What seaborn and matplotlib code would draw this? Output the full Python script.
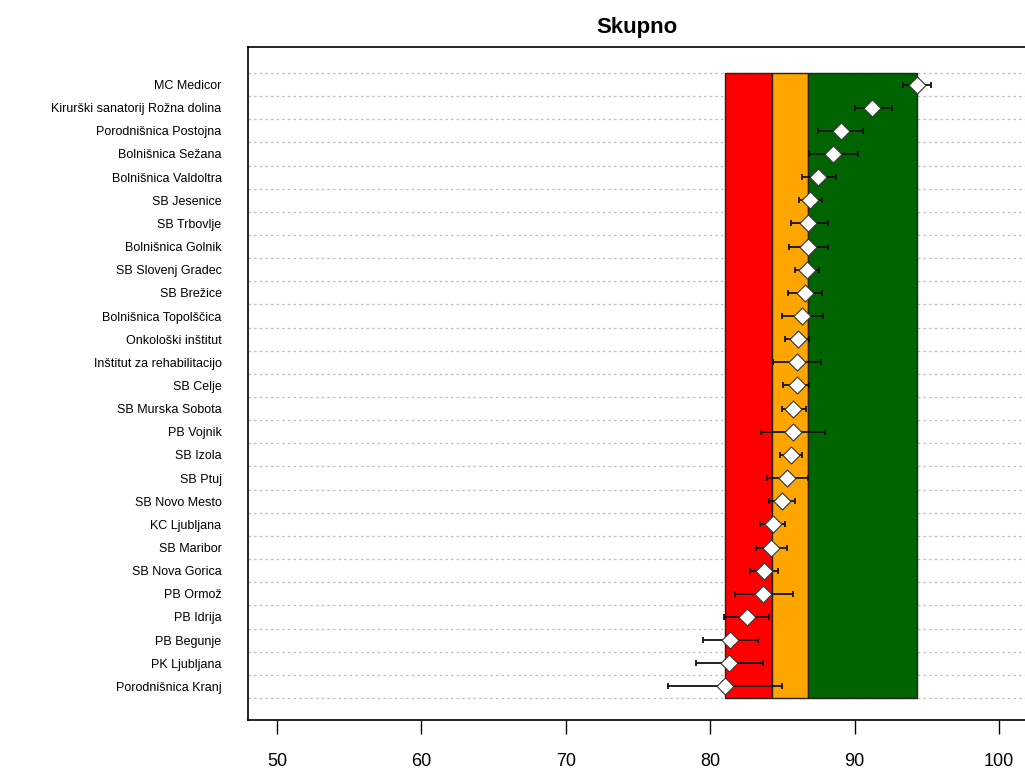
import matplotlib
matplotlib.use("Agg")
import matplotlib.pyplot as plt
import seaborn as sns
import pandas as pd

# podatki
bolnisnice = [
    "MC Medicor", "Kirurški sanatorij Rožna dolina", "Porodnišnica Postojna",
    "Bolnišnica Sežana", "Bolnišnica Valdoltra", "SB Jesenice", "SB Trbovlje",
    "Bolnišnica Golnik", "SB Slovenj Gradec", "SB Brežice", "Bolnišnica Topolščica",
    "Onkološki inštitut", "Inštitut za rehabilitacijo", "SB Celje", "SB Murska Sobota",
    "PB Vojnik", "SB Izola", "SB Ptuj", "SB Novo Mesto", "KC Ljubljana", "SB Maribor",
    "SB Nova Gorica", "PB Ormož", "PB Idrija", "PB Begunje", "PK Ljubljana",
    "Porodnišnica Kranj",
]
ocena = [94.32, 91.23, 89.03, 88.52, 87.48, 86.91, 86.80, 86.80, 86.68, 86.59,
         86.38, 86.06, 85.99, 85.99, 85.76, 85.76, 85.57, 85.34, 84.95, 84.37,
         84.19, 83.75, 83.68, 82.53, 81.37, 81.33, 81.02]
spodnja = [93.37, 90.03, 87.48, 86.84, 86.38, 86.17, 85.57, 85.48, 85.87, 85.37,
           84.95, 85.18, 84.33, 85.06, 84.95, 83.52, 84.83, 83.95, 84.09, 83.45,
           83.15, 82.76, 81.72, 80.96, 79.52, 79.00, 77.08]
zgornja = [95.29, 92.61, 90.55, 90.26, 88.71, 87.72, 88.13, 88.13, 87.53, 87.76,
           87.83, 86.86, 87.65, 86.86, 86.61, 87.95, 86.38, 86.75, 85.87, 85.18,
           85.30, 84.67, 85.71, 84.07, 83.29, 83.68, 84.99]
meje = [81.02, 84.26, 86.75, 94.32]
barve = ["#ff0000", "#ffa500", "#006400"]
x_ticks = [50, 60, 70, 80, 90, 100]

df = pd.DataFrame({"bolnisnica": bolnisnice, "ocena": ocena,
                   "spodnja": spodnja, "zgornja": zgornja})
df["poz"] = range(len(df))

sns.set_style("white")
plt.rcParams["font.family"] = ["Liberation Sans", "DejaVu Sans"]
plt.rcParams["text.color"] = "black"
plt.rcParams["xtick.color"] = "black"
plt.rcParams["ytick.color"] = "black"

fig = plt.figure(figsize=(10.25, 7.76), dpi=100)
ax = fig.add_axes([248 / 1025, 1 - 720 / 776, 778 / 1025, 673 / 776])

n = len(df)
# pikcaste crte med vrsticami
for i in range(n + 1):
    ax.axhline(i - 0.5, color="#bdbdbd", lw=0.9, ls=(0, (2, 2.5)), zorder=1)

# barvni pasovi
for k in range(3):
    ax.add_patch(plt.Rectangle((meje[k], -0.5), meje[k + 1] - meje[k], n,
                               facecolor=barve[k], edgecolor="#222222", lw=1, zorder=2))

# intervali
ax.errorbar(df["ocena"], df["poz"],
            xerr=[df["ocena"] - df["spodnja"], df["zgornja"] - df["ocena"]],
            fmt="none", ecolor="#111111", elinewidth=1.3, capsize=2.5,
            capthick=1.3, zorder=3)
sns.scatterplot(data=df, x="ocena", y="poz", marker="D", s=75, color="white",
                edgecolor="#333333", linewidth=0.8, zorder=4, ax=ax)

ax.set_xlim(48, 101.87)
ax.set_ylim(n + 0.45, -1.62)
ax.set_yticks(df["poz"])
ax.set_yticklabels(bolnisnice, fontsize=9)
ax.set_xticks(x_ticks)
ax.set_xticklabels([str(t) for t in x_ticks], fontsize=13)
ax.tick_params(axis="y", length=0, pad=19)
ax.tick_params(axis="x", length=10, width=1, color="black", pad=14, direction="out",
               bottom=True)
ax.set_xlabel("")
ax.set_ylabel("")
for s in ax.spines.values():
    s.set_color("black")
    s.set_linewidth(1.2)

ax.set_title("Skupno", fontsize=16, fontweight="bold", pad=10, color="black")

fig.savefig("out.png", dpi=100)
